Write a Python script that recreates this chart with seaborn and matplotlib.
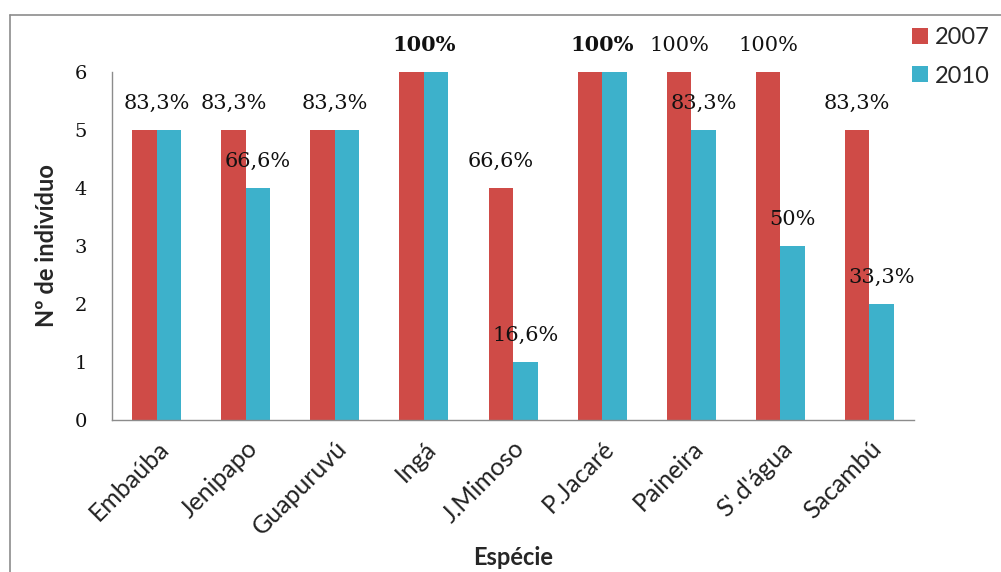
import matplotlib
matplotlib.use("Agg")
import matplotlib.pyplot as plt
import matplotlib.ticker as mticker
from matplotlib.lines import Line2D
import numpy as np
import pandas as pd
import seaborn as sns

# Number of surviving individuals per species (out of 6 planted)
especies = ["Embaúba", "Jenipapo", "Guapuruvú", "Ingá", "J.Mimoso",
            "P.Jacaré", "Paineira", "S'.d'água", "Sacambú"]
anos = ["2007", "2010"]
n_2007 = [5, 5, 5, 6, 4, 6, 6, 6, 5]
n_2010 = [5, 4, 5, 6, 1, 6, 5, 3, 2]
total_plantado = 6

cores = {"2007": "#CF4B47", "2010": "#3DB1CB"}

df = pd.DataFrame({
    "Espécie": especies * 2,
    "Ano": [anos[0]] * len(especies) + [anos[1]] * len(especies),
    "N": n_2007 + n_2010,
})

sns.set_style("white")
plt.rcParams["font.family"] = ["Lato", "DejaVu Sans"]

fig = plt.figure(figsize=(10.01, 5.72), dpi=100)
ax = fig.add_axes([0.112, 0.2657, 0.801, 0.6084])

sns.barplot(data=df, x="Espécie", y="N", hue="Ano", order=especies,
            hue_order=anos, palette=cores, width=0.55, saturation=1,
            linewidth=0, errorbar=None, legend=False, ax=ax)

ax.set_ylim(0, 6)
ax.set_xlim(-0.5, len(especies) - 0.5)

# survival percentage, truncated to one decimal (Portuguese decimal comma)
def pct_label(v):
    p = np.floor(v / total_plantado * 1000) / 10
    if abs(p - round(p)) < 1e-9:
        return f"{int(round(p))}%"
    return f"{p:.1f}%".replace(".", ",")

half = 0.55 / 4
off = 0.37
lbl_font = dict(family="DejaVu Serif", fontsize=15, color="#111111")
for i, (a, b) in enumerate(zip(n_2007, n_2010)):
    if a == b:
        w = "bold" if a == total_plantado else "normal"
        ax.text(i, a + off, pct_label(a), ha="center", va="baseline",
                fontweight=w, **lbl_font)
    else:
        ax.text(i - half, a + off, pct_label(a), ha="center", va="baseline",
                **lbl_font)
        ax.text(i + half, b + off, pct_label(b), ha="center", va="baseline",
                **lbl_font)

# axes styling
for s in ["top", "right"]:
    ax.spines[s].set_visible(False)
for s in ["left", "bottom"]:
    ax.spines[s].set_color("#8C8C8C")
    ax.spines[s].set_linewidth(1.0)

ax.yaxis.set_major_locator(mticker.MultipleLocator(1))
ax.tick_params(axis="y", direction="out", length=6, width=1,
               color="#8C8C8C", pad=12)
for t in ax.get_yticklabels():
    t.set_fontfamily("DejaVu Serif")
    t.set_fontsize(14)
    t.set_color("#111111")

ax.set_xticks(np.arange(len(especies)))
ax.set_xticks(np.arange(-0.5, len(especies)), minor=True)
ax.tick_params(axis="x", which="major", length=0, pad=12)
ax.tick_params(axis="x", which="minor", direction="out", length=6,
               width=1, color="#8C8C8C")
ax.set_xticklabels(especies, rotation=45, ha="right",
                   rotation_mode="anchor", fontsize=18, color="#222222")

ax.set_xlabel("Espécie", fontsize=17, fontweight="bold", labelpad=5)
ax.set_ylabel("Nº de indivíduo", fontsize=17, fontweight="bold", labelpad=12)

# legend
handles = [Line2D([0], [0], marker="s", linestyle="none", markersize=11,
                  markerfacecolor=cores[a], markeredgewidth=0) for a in anos]
fig.legend(handles, anos, loc="upper left", bbox_to_anchor=(0.887, 0.99),
           frameon=False, fontsize=17, handletextpad=0.2, labelspacing=0.75,
           handlelength=0.9)

# outer chart frame
fig.add_artist(Line2D([0.01, 0.01], [0.0, 0.974], transform=fig.transFigure,
                      color="#8C8C8C", lw=1.2))
fig.add_artist(Line2D([0.01, 1.0], [0.974, 0.974], transform=fig.transFigure,
                      color="#8C8C8C", lw=1.2))

fig.savefig("out.png", dpi=100)
